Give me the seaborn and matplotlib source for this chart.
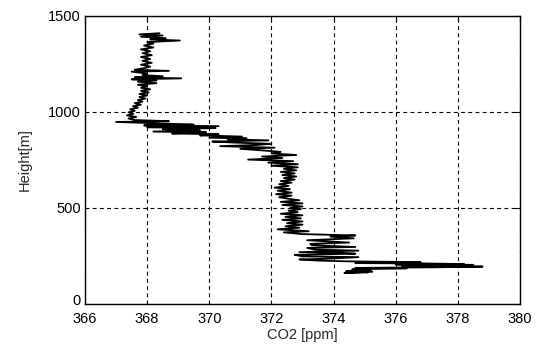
import matplotlib
matplotlib.use("Agg")
import matplotlib.pyplot as plt
import matplotlib.transforms as mtransforms
import seaborn as sns
import pandas as pd

# CO2 profile (ppm) vs height (m), bottom to top
co2_ppm = [
    375.25, 374.35, 375.1, 374.4, 375.2, 374.6, 376.35, 374.7, 377.2, 378.8,
    377.5, 376.2, 378.3, 378.5, 376.0, 378.2, 377.0, 374.7, 376.8, 374.5,
    373.5, 372.9, 373.8, 374.8, 373.0, 372.75, 374.7, 374.3, 372.9, 374.8,
    373.4, 373.15, 374.7, 373.3, 373.25, 374.5, 373.15, 374.65, 373.9, 374.7,
    373.0, 372.4, 373.2, 372.2, 372.9, 372.45, 373.0, 372.5, 373.0, 372.35,
    372.95, 372.45, 373.0, 372.3, 372.85, 372.55, 372.95, 372.6, 373.0, 372.35,
    373.0, 372.3, 372.9, 372.55, 372.25, 372.65, 372.15, 372.65, 372.2, 372.6,
    372.1, 372.55, 372.25, 372.65, 372.3, 372.75, 372.4, 372.8, 372.35, 372.75,
    372.3, 372.8, 372.4, 372.85, 372.0, 372.85, 371.9, 372.7, 371.25, 372.35,
    371.7, 372.8, 372.0, 372.3, 371.7, 371.0, 372.1, 370.35, 371.5, 372.0,
    370.9, 370.1, 371.9, 370.6, 371.2, 370.0, 371.05, 369.7, 370.3, 368.8,
    369.9, 368.2, 369.7, 368.5, 370.2, 368.0, 370.3, 367.9, 369.5, 368.5,
    367.0, 368.7, 367.6, 367.4, 367.65, 367.35, 367.55, 367.4, 367.6, 367.45,
    367.7, 367.55, 367.8, 367.6, 367.85, 367.7, 367.95, 367.75, 368.0, 367.75,
    368.05, 367.8, 368.1, 367.8, 368.0, 367.7, 368.3, 367.7, 368.3, 367.5,
    369.1, 367.6, 368.5, 367.85, 368.0, 367.5, 368.7, 367.6, 367.9, 368.1,
    367.8, 368.15, 367.85, 368.1, 367.8, 368.15, 367.85, 368.1, 367.8, 368.2,
    367.9, 368.2, 368.0, 369.05, 368.1, 368.6, 367.8, 368.5, 367.75, 368.4,
]
height_m = [
    168, 162, 165, 170, 174, 180, 186, 188, 191, 195,
    197, 199, 201, 204, 206, 208, 211, 213, 218, 222,
    226, 232, 236, 244, 248, 256, 262, 266, 270, 278,
    283, 292, 297, 306, 313, 320, 332, 342, 351, 357,
    364, 373, 379, 389, 397, 405, 413, 421, 430, 438,
    446, 454, 462, 470, 478, 486, 494, 500, 508, 516,
    524, 532, 540, 548, 556, 564, 572, 580, 590, 598,
    606, 615, 624, 632, 640, 648, 656, 664, 672, 680,
    688, 696, 704, 712, 720, 728, 736, 744, 752, 760,
    768, 776, 784, 792, 800, 808, 814, 822, 828, 834,
    840, 846, 852, 858, 862, 866, 872, 878, 884, 888,
    894, 898, 904, 910, 916, 920, 926, 930, 934, 940,
    948, 952, 958, 966, 974, 982, 990, 998, 1006, 1014,
    1022, 1030, 1038, 1046, 1054, 1062, 1070, 1078, 1086, 1094,
    1102, 1110, 1118, 1126, 1134, 1142, 1150, 1158, 1164, 1170,
    1175, 1180, 1186, 1192, 1200, 1210, 1214, 1220, 1228, 1236,
    1246, 1256, 1266, 1276, 1286, 1296, 1306, 1316, 1326, 1336,
    1346, 1356, 1364, 1372, 1378, 1384, 1392, 1398, 1404, 1410,
]
x_ticks = [366, 368, 370, 372, 374, 376, 378, 380]
y_ticks = [0, 500, 1000, 1500]

sns.set_style("white")
plt.rcParams["font.family"] = ["Liberation Sans", "DejaVu Sans"]

df = pd.DataFrame({"co2": co2_ppm, "h": height_m})

fig = plt.figure(figsize=(5.37, 3.53), dpi=100)
ax = fig.add_axes([0.1583, 0.1388, 0.81, 0.816])
sns.lineplot(data=df, x="co2", y="h", sort=False, estimator=None,
             color="black", linewidth=1.3, ax=ax)

ax.set_xlim(366, 380)
ax.set_ylim(0, 1500)
ax.set_xticks(x_ticks)
ax.set_yticks(y_ticks)
ax.set_xticklabels([str(t) for t in x_ticks])
ax.set_yticklabels([str(t) for t in y_ticks])
ax.grid(True, color="black", linestyle=(0, (3.5, 3)), linewidth=0.8)
for s in ax.spines.values():
    s.set_color("black")
    s.set_linewidth(1.0)
ax.tick_params(direction="in", length=4, width=0.8, colors="black",
               labelsize=10.5, top=True, right=True)
ax.tick_params(axis="x", pad=6)
ax.tick_params(axis="y", pad=3)
ax.set_xlabel("CO2 [ppm]", fontsize=10.5, labelpad=1)
ax.set_ylabel("Height[m]", fontsize=10.5, labelpad=12)

# lift the "0" label slightly, as in the reference
zero_lbl = ax.get_yticklabels()[0]
zero_lbl.set_transform(zero_lbl.get_transform() +
                       mtransforms.ScaledTranslation(0, 3.5 / 72, fig.dpi_scale_trans))

fig.savefig("out.png", dpi=100, facecolor="white")
